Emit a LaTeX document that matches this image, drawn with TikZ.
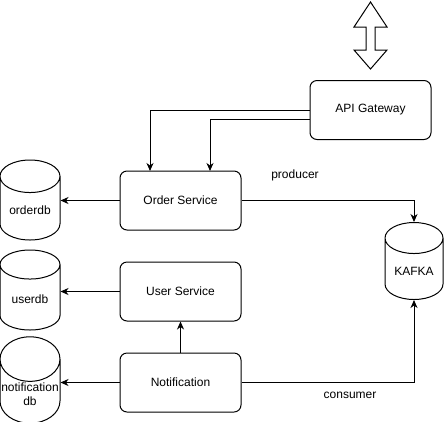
\documentclass[tikz,border=0pt]{standalone}
\usepackage{fontspec}
\setmainfont{Liberation Sans}
\usetikzlibrary{shapes.geometric,arrows.meta,positioning}
\begin{document}
\begin{tikzpicture}[
    x=1pt, y=-1pt,
    every node/.style={font=\fontsize{12}{14}\selectfont},
    service/.style={rectangle, draw, line width=1pt, rounded corners=7pt, minimum width=121pt, minimum height=59pt},
    database/.style={cylinder, draw, line width=1pt, shape border rotate=90, aspect=0.75, minimum width=60pt, minimum height=80pt, align=center, inner sep=1pt, anchor=shape center},
    flow/.style={-{Stealth[length=8pt,width=7pt,inset=2.5pt]}, line width=1pt}
]
\useasboundingbox (0,0) rectangle (446,421);
% client access
\draw[line width=1pt] (370.5,2) -- (387,27) -- (375,27) -- (375,50) -- (387,50) -- (370.5,69)
    -- (354,50) -- (366,50) -- (366,27) -- (354,27) -- cycle;
% services
\node[service] (api) at (370.5,110) {API Gateway};
\node[service] (order) at (180.5,200.5) {Order Service};
\node[service, below=31pt of order] (user) {User Service};
\node[service, below=31pt of user] (notif) {Notification};
% databases
\node[database] (orderdb) at (30,200) {orderdb};
\node[database] (userdb) at (30,290) {userdb};
\node[database] (notifdb) at (30,380) {notification\\db};
\node[database, minimum width=58pt, minimum height=77pt] (kafka) at (414,261) {KAFKA};
% connectors
\draw[flow] ([yshift=0pt]api.west) -| (150,171);
\draw[flow] ([yshift=-9.5pt]api.west) -| (210,171);
\draw[flow] (order.west) -- (order.west -| orderdb.east);
\draw[flow] (user.west) -- (user.west -| userdb.east);
\draw[flow] (notif.west) -- (notif.west -| notifdb.east);
\draw[flow] (notif.north) -- (user.south);
\draw[flow] (order.east) -| (kafka.top);
\draw[flow] (notif.east) -| (kafka.bottom);
% labels
\node (producer) at (295,175) {producer};
\node (consumer) at (350,395) {consumer};
\end{tikzpicture}
\end{document}
